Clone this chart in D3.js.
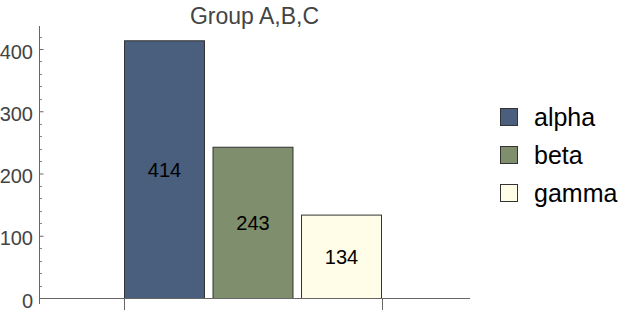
<!DOCTYPE html>
<html><head><meta charset="utf-8">
<script src="https://cdn.jsdelivr.net/npm/d3@7"></script>
<style>body{margin:0;background:#fff}svg{display:block}</style>
</head><body>
<svg id="c" width="632" height="314"></svg>
<script>
const categories = ["alpha", "beta", "gamma"];
const values = [414, 243, 134];
const colors = ["#4a5e7e", "#7f8f6d", "#fffde7"];
const yTicks = [0, 100, 200, 300, 400];
const title = "Group A,B,C";

const svg = d3.select("#c");
const font = "Liberation Sans, Arial, sans-serif";
const y = d3.scaleLinear().domain([0, 400]).range([298, 49]);
const x = d3.scaleBand().domain(categories).range([124, 382]).paddingInner(0.085);

// title
svg.append("text").attr("x", 254.5).attr("y", 24).attr("text-anchor", "middle")
  .attr("font-family", font).attr("font-size", 23).attr("fill", "#444").text(title);

// bars
svg.selectAll("rect.bar").data(values).enter().append("rect")
  .attr("x", (d, i) => x(categories[i]) + 0.5)
  .attr("y", d => y(d) + 0.5)
  .attr("width", x.bandwidth() - 1)
  .attr("height", d => y(0) - y(d))
  .attr("fill", (d, i) => colors[i])
  .attr("stroke", "#333").attr("stroke-width", 1);

svg.selectAll("text.lbl").data(values).enter().append("text")
  .attr("x", (d, i) => x(categories[i]) + x.bandwidth() / 2)
  .attr("y", d => (y(d) + y(0)) / 2 + 8)
  .attr("text-anchor", "middle").attr("font-family", font).attr("font-size", 20)
  .attr("fill", "#000").text(d => d);

// y axis
const yAxis = d3.axisLeft(y).tickValues(yTicks).tickSize(4).tickPadding(6);
const yg = svg.append("g").attr("transform", "translate(39.5,0)").call(yAxis);
yg.select(".domain").remove();
yg.selectAll("line").attr("stroke", "#666").attr("transform", "translate(4,0)");
yg.selectAll("text").attr("font-family", font).attr("font-size", 20).attr("fill", "#444")
  .attr("x", -6.5).attr("dy", "0.45em");
// minor ticks
const minor = d3.range(0, 421, 20).filter(v => v % 100 !== 0);
svg.selectAll("line.minor").data(minor).enter().append("line")
  .attr("x1", 39.5).attr("x2", 42).attr("y1", d => Math.round(y(d)) + 0.5).attr("y2", d => Math.round(y(d)) + 0.5)
  .attr("stroke", "#888");
svg.append("line").attr("x1", 39.5).attr("x2", 39.5).attr("y1", 26).attr("y2", 304).attr("stroke", "#666");
// x axis
svg.append("line").attr("x1", 39).attr("x2", 470).attr("y1", 298.5).attr("y2", 298.5).attr("stroke", "#666");
[124, 382].forEach(v => svg.append("line").attr("x1", v + 0.5).attr("x2", v + 0.5).attr("y1", 298).attr("y2", 310).attr("stroke", "#666"));

// legend
const lg = svg.append("g");
categories.forEach((c, i) => {
  const cy = 117 + i * 38;
  lg.append("rect").attr("x", 500.5).attr("y", cy - 8.5).attr("width", 17).attr("height", 17)
    .attr("fill", colors[i]).attr("stroke", "#333");
  lg.append("text").attr("x", 534).attr("y", cy + 9).attr("font-family", font).attr("font-size", 25)
    .attr("fill", "#000").text(c);
});
</script>
</body></html>
